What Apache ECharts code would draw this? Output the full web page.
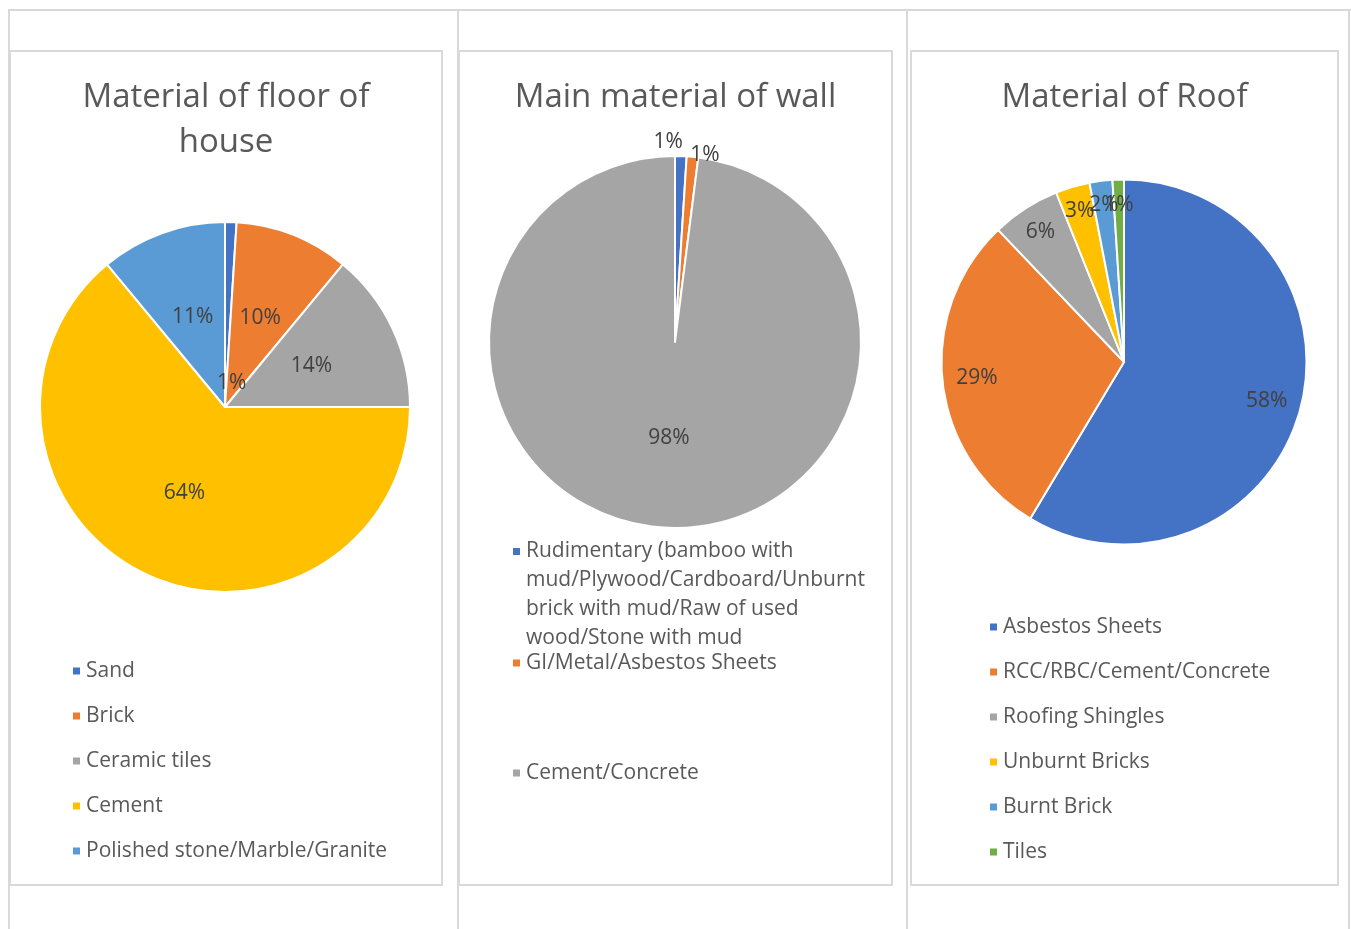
<!DOCTYPE html>
<html>
<head>
<meta charset="utf-8">
<title>House materials</title>
<script src="https://cdn.jsdelivr.net/npm/echarts@6/dist/echarts.min.js"></script>
<style>
  html, body { margin: 0; padding: 0; background: #fff; }
  #page { position: relative; width: 1351px; height: 929px; overflow: hidden; }
  .line { position: absolute; background: #d9d9d9; }
  .box { position: absolute; top: 50px; height: 836px; border: 2px solid #d9d9d9; box-sizing: border-box; }
</style>
</head>
<body>
<div id="page">
  <!-- table grid behind the charts -->
  <div class="line" style="left:8px;top:9px;width:1343px;height:2px"></div>
  <div class="line" style="left:8px;top:9px;width:2px;height:920px"></div>
  <div class="line" style="left:457px;top:9px;width:2px;height:920px"></div>
  <div class="line" style="left:906px;top:9px;width:2px;height:920px"></div>
  <div class="line" style="left:1348px;top:9px;width:2px;height:920px"></div>

  <div id="floor" class="box" style="left:9px;width:434px"></div>
  <div id="wall" class="box" style="left:458px;width:435px"></div>
  <div id="roof" class="box" style="left:910px;width:429px"></div>
</div>

<script>
  // 数据
  var floorNames = ['Sand', 'Brick', 'Ceramic tiles', 'Cement', 'Polished stone/Marble/Granite'];
  var floorValues = [1, 10, 14, 64, 11];

  var wallNames = [
    'Rudimentary (bamboo with\nmud/Plywood/Cardboard/Unburnt\nbrick with mud/Raw of used\nwood/Stone with mud',
    'GI/Metal/Asbestos Sheets',
    'Cement/Concrete'
  ];
  var wallValues = [1, 1, 98];

  var roofNames = ['Asbestos Sheets', 'RCC/RBC/Cement/Concrete', 'Roofing Shingles', 'Unburnt Bricks', 'Burnt Brick', 'Tiles'];
  var roofValues = [58, 29, 6, 3, 2, 1];

  var officeColors = ['#4472C4', '#ED7D31', '#A5A5A5', '#FFC000', '#5B9BD5', '#70AD47'];
  var fontFamily = '"Open Sans", "Noto Sans", sans-serif';

  function toData (names, values) {
    return names.map(function (n, i) { return {name: n, value: values[i]}; });
  }

  // push labels in/out from the pie centre, like Excel's best fit
  function labelMover (center, push, extraX, extraY) {
    return function (p) {
      var k = push[p.dataIndex];
      var lx = p.labelRect.x + p.labelRect.width / 2;
      var ly = p.labelRect.y + p.labelRect.height / 2;
      return {
        dx: (lx - center[0]) * (k - 1) + (extraX[p.dataIndex] || 0),
        dy: (ly - center[1]) * (k - 1) + ((extraY && extraY[p.dataIndex]) || 0)
      };
    };
  }

  function pieSeries (data, center, radius, push, extraX, extraY) {
    return {
      type: 'pie',
      center: center,
      radius: radius,
      startAngle: 90,
      clockwise: true,
      avoidLabelOverlap: false,
      animation: false,
      emphasis: {scale: false},
      itemStyle: {borderColor: '#ffffff', borderWidth: 2},
      label: {
        show: true,
        position: 'inside',
        formatter: '{c}%',
        color: '#404040',
        fontSize: 21,
        fontFamily: fontFamily
      },
      labelLine: {show: false},
      labelLayout: labelMover(center, push, extraX, extraY),
      data: data
    };
  }

  function titleOpt (text) {
    return {
      text: text,
      left: 'center',
      top: 23,
      padding: 0,
      textStyle: {
        color: '#595959',
        fontSize: 33,
        fontWeight: 'normal',
        lineHeight: 45,
        fontFamily: fontFamily
      }
    };
  }

  function legendOpt (names, left, top, lineHeight, gap, formatter) {
    var opt = {
      orient: 'vertical',
      left: left,
      top: top,
      padding: 0,
      itemGap: gap,
      itemWidth: 9,
      itemHeight: 9,
      icon: 'rect',
      selectedMode: false,
      data: names,
      textStyle: {
        color: '#595959',
        fontSize: 21,
        lineHeight: lineHeight,
        fontFamily: fontFamily
      }
    };
    if (formatter) {
      opt.formatter = formatter;
    }
    return opt;
  }

  // 1. floor
  var floorCenter = [214, 355];
  var floorChart = echarts.init(document.getElementById('floor'));
  floorChart.setOption({
    color: officeColors,
    title: titleOpt('Material of floor of\nhouse'),
    legend: legendOpt(floorNames, 60, 607, 24, 21),
    series: [pieSeries(toData(floorNames, floorValues), floorCenter, 185, [0.25, 1, 1, 1, 1], [6, 0, 0, 0, 0])]
  });

  // 2. wall
  var wallCenter = [215, 290];
  var wallChart = echarts.init(document.getElementById('wall'));
  wallChart.setOption({
    color: officeColors,
    title: titleOpt('Main material of wall'),
    legend: [
      // blank lines on top keep the icon level with the first line
      legendOpt([wallNames[0]], 51, 398, 29, 0, function (name) { return '\n\n\n' + name; }),
      legendOpt([wallNames[1]], 51, 599, 24, 0),
      legendOpt([wallNames[2]], 51, 709, 24, 0)
    ],
    series: [pieSeries(toData(wallNames, wallValues), wallCenter, 186, [2.08, 1.98, 1], [-13, 12, 0], [0, 2, 0])]
  });

  // 3. roof
  var roofCenter = [212, 310];
  var roofChart = echarts.init(document.getElementById('roof'));
  roofChart.setOption({
    color: officeColors,
    title: titleOpt('Material of Roof'),
    legend: legendOpt(roofNames, 76, 563, 24, 21),
    series: [pieSeries(toData(roofNames, roofValues), roofCenter, 182.5, [1.57, 1.57, 1.64, 1.67, 1.68, 1.67], [0, 0, 0, 0, 0, 0])]
  });
</script>
</body>
</html>
